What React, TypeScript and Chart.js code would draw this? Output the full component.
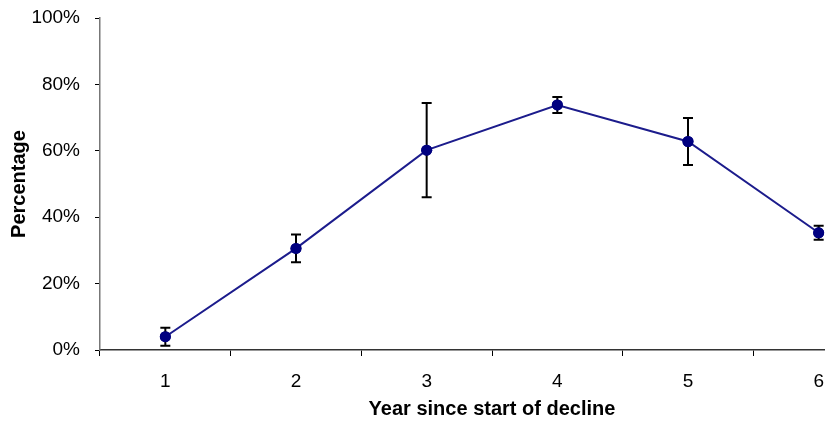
import React, { useEffect, useRef } from "react";
import { Chart, registerables } from "chart.js";

Chart.register(...registerables);

const categories = ["1", "2", "3", "4", "5", "6"];
const percentValues = [4.0, 30.6, 60.2, 73.8, 62.8, 35.3];
const errorValues = [2.7, 4.2, 14.2, 2.4, 7.1, 2.1];
const yTicks = [0, 20, 40, 60, 80, 100];

const FONT = "'Liberation Sans', Arial, sans-serif";

const errorBarPlugin = {
  id: "errorBars",
  afterDatasetsDraw(chart: any) {
    const ctx = chart.ctx;
    const meta = chart.getDatasetMeta(0);
    const yScale = chart.scales.y;
    ctx.save();
    ctx.strokeStyle = "#000000";
    ctx.lineWidth = 2;
    meta.data.forEach((pt: any, i: number) => {
      const v = percentValues[i];
      const e = errorValues[i];
      const x = pt.x;
      const yTop = yScale.getPixelForValue(v + e);
      const yBot = yScale.getPixelForValue(v - e);
      ctx.beginPath();
      ctx.moveTo(x, yTop);
      ctx.lineTo(x, yBot);
      ctx.moveTo(x - 5, yTop);
      ctx.lineTo(x + 5, yTop);
      ctx.moveTo(x - 5, yBot);
      ctx.lineTo(x + 5, yBot);
      ctx.stroke();
    });
    meta.data.forEach((pt: any) => {
      ctx.beginPath();
      ctx.fillStyle = "#000080";
      ctx.arc(pt.x, pt.y, 5.5, 0, Math.PI * 2);
      ctx.fill();
    });
    ctx.restore();
  },
};

export default function App() {
  const canvasRef = useRef<HTMLCanvasElement | null>(null);

  useEffect(() => {
    if (!canvasRef.current) return;
    const chart = new Chart(canvasRef.current, {
      type: "line",
      data: {
        labels: categories,
        datasets: [
          {
            data: percentValues,
            borderColor: "#1c1c8c",
            borderWidth: 2,
            backgroundColor: "#000080",
            pointBackgroundColor: "#000080",
            pointBorderColor: "#000080",
            pointRadius: 5.5,
            pointBorderWidth: 0,
            tension: 0,
            fill: false,
          },
        ],
      },
      options: {
        responsive: false,
        animation: false,
        devicePixelRatio: 1,
        layout: { padding: { top: 18, right: 6, bottom: 0, left: 0 } },
        plugins: {
          legend: { display: false },
          tooltip: { enabled: false },
        },
        scales: {
          x: {
            type: "category",
            offset: true,
            grid: {
              offset: true,
              drawOnChartArea: false,
              drawTicks: true,
              tickLength: 6,
              color: "#000000",
              lineWidth: 1,
            },
            border: { display: true, color: "#333333", width: 1.5 },
            ticks: {
              color: "#000000",
              font: { family: FONT, size: 19 },
              padding: 14,
              maxRotation: 0,
            },
            title: {
              display: true,
              text: "Year since start of decline",
              color: "#000000",
              font: { family: FONT, size: 20, weight: "bold" },
              padding: { top: 0, bottom: 0 },
            },
            afterFit(scale: any) {
              scale.height = 71;
              scale.paddingLeft = 0;
              scale.paddingRight = 0;
            },
          },
          y: {
            min: 0,
            max: 100,
            afterBuildTicks(scale: any) {
              scale.ticks = yTicks.map((v) => ({ value: v }));
            },
            grid: {
              drawOnChartArea: false,
              drawTicks: true,
              tickLength: 5,
              color: "#000000",
              lineWidth: 1,
            },
            border: { display: true, color: "#777777", width: 1.5 },
            ticks: {
              color: "#000000",
              font: { family: FONT, size: 19 },
              padding: 15,
              callback: (v: any) => v + "%",
            },
            title: {
              display: true,
              text: "Percentage",
              color: "#000000",
              font: { family: FONT, size: 20, weight: "bold" },
              padding: { top: 7.5, bottom: 0 },
            },
            afterFit(scale: any) {
              scale.width = 100;
              scale.paddingTop = 0;
              scale.paddingBottom = 0;
            },
          },
        },
      },
      plugins: [errorBarPlugin],
    });
    return () => chart.destroy();
  }, []);

  return (
    <div
      style={{
        position: "fixed",
        left: 0,
        top: 0,
        width: 825,
        height: 421,
        overflow: "hidden",
        background: "#ffffff",
      }}
    >
      <canvas ref={canvasRef} width={890} height={421} style={{ display: "block" }} />
    </div>
  );
}
